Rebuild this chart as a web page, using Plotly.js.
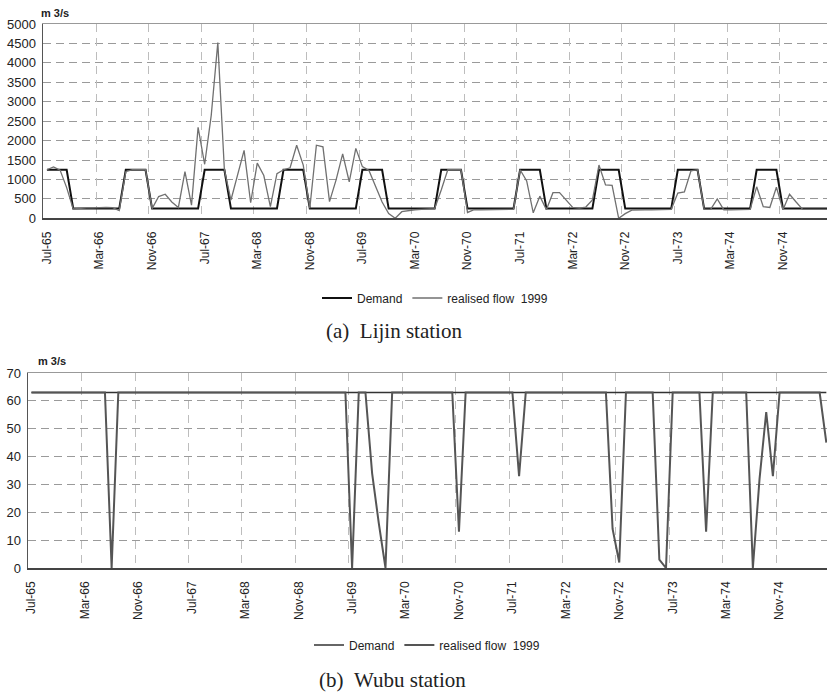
<!DOCTYPE html>
<html>
<head>
<meta charset="utf-8">
<script src="https://cdn.plot.ly/plotly-3.0.1.min.js"></script>
<style>
  html, body { margin: 0; padding: 0; background: #fff; }
  #chart { width: 827px; height: 697px; }
</style>
</head>
<body>
<div id="chart"></div>
<script>
// ---- categories: monthly, Jul-65 .. Jun-75 ----
const monthNames = ['Jan','Feb','Mar','Apr','May','Jun','Jul','Aug','Sep','Oct','Nov','Dec'];
const months = [];
for (let k = 0; k < 120; k++) {
  const m = (6 + k) % 12;
  const yr = 65 + Math.floor((6 + k) / 12);
  months.push(monthNames[m] + '-' + yr);
}

// ---- tick labels (every 8 months) ----
const tickLabels = ['Jul-65','Mar-66','Nov-66','Jul-67','Mar-68','Nov-68','Jul-69','Mar-70',
                    'Nov-70','Jul-71','Mar-72','Nov-72','Jul-73','Mar-74','Nov-74'];

// ---- (a) Lijin station, m3/s ----
const lijinDemand = [
  1250,1250,1250,1250,250,250,250,250,250,250,250,250,
  1250,1250,1250,1250,250,250,250,250,250,250,250,250,
  1250,1250,1250,1250,250,250,250,250,250,250,250,250,
  1250,1250,1250,1250,250,250,250,250,250,250,250,250,
  1250,1250,1250,1250,250,250,250,250,250,250,250,250,
  1250,1250,1250,1250,250,250,250,250,250,250,250,250,
  1250,1250,1250,1250,250,250,250,250,250,250,250,250,
  1250,1250,1250,1250,250,250,250,250,250,250,250,250,
  1250,1250,1250,1250,250,250,250,250,250,250,250,250,
  1250,1250,1250,1250,250,250,250,250,250,250,250,250
];
const lijinFlow = [
  1250,1320,1240,790,240,260,270,270,280,280,275,200,
  1200,1250,1250,1250,250,560,620,420,280,1200,340,2340,
  1390,2650,4520,1250,470,1100,1750,400,1420,1100,300,1150,
  1250,1300,1880,1370,260,1880,1840,430,990,1660,940,1800,
  1330,1230,830,420,120,0,170,200,220,230,240,250,
  730,1250,1250,1250,150,220,220,220,225,230,230,230,
  1250,960,140,570,220,660,660,480,280,260,290,470,
  1370,860,850,0,120,210,220,220,220,220,220,230,
  650,680,1220,1250,230,230,500,220,220,220,220,230,
  810,300,280,800,220,620,420,230,230,230,230,230
];

// ---- (b) Wubu station, m3/s ----
const wubuDemand = [
  63,63,63,63,63,63,63,63,63,63,63,63,
  63,63,63,63,63,63,63,63,63,63,63,63,
  63,63,63,63,63,63,63,63,63,63,63,63,
  63,63,63,63,63,63,63,63,63,63,63,63,
  63,63,63,63,63,63,63,63,63,63,63,63,
  63,63,63,63,63,63,63,63,63,63,63,63,
  63,63,63,63,63,63,63,63,63,63,63,63,
  63,63,63,63,63,63,63,63,63,63,63,63,
  63,63,63,63,63,63,63,63,63,63,63,63,
  63,63,63,63,63,63,63,63,63,63,63,63
];
const wubuFlow = [
  63,63,63,63,63,63,63,63,63,63,63,63,
  0,63,63,63,63,63,63,63,63,63,63,63,
  63,63,63,63,63,63,63,63,63,63,63,63,
  63,63,63,63,63,63,63,63,63,63,63,63,
  0,63,63,34,16,0,63,63,63,63,63,63,
  63,63,63,63,13,63,63,63,63,63,63,63,
  63,33,63,63,63,63,63,63,63,63,63,63,
  63,63,63,14,2,63,63,63,63,63,3,0,
  63,63,63,63,63,13,63,63,63,63,63,63,
  0,32,56,33,63,63,63,63,63,63,63,45
];

const gridVals = tickLabels.map(l => months.indexOf(l) - 0.5);
const fontSans = 'Liberation Sans, Arial, sans-serif';
const fontSerif = 'Liberation Serif, Times New Roman, serif';

const traces = [
  { x: months, y: lijinDemand, name: 'Demand', type: 'scatter', mode: 'lines',
    xaxis: 'x', yaxis: 'y', legend: 'legend',
    line: { color: '#111111', width: 2 } },
  { x: months, y: lijinFlow, name: 'realised flow\u00a0 1999', type: 'scatter', mode: 'lines',
    xaxis: 'x', yaxis: 'y', legend: 'legend',
    line: { color: '#707070', width: 1.3 } },
  { x: months, y: wubuDemand, name: 'Demand', type: 'scatter', mode: 'lines',
    xaxis: 'x2', yaxis: 'y2', legend: 'legend2',
    line: { color: '#333333', width: 1.5 } },
  { x: months, y: wubuFlow, name: 'realised flow\u00a0 1999', type: 'scatter', mode: 'lines',
    xaxis: 'x2', yaxis: 'y2', legend: 'legend2',
    line: { color: '#555555', width: 2 } },
  // carriers for the boundary gridline axes (no visible marks)
  { x: [gridVals[0]], y: [null], xaxis: 'x3', yaxis: 'y', type: 'scatter', mode: 'lines',
    showlegend: false, hoverinfo: 'skip' },
  { x: [gridVals[0]], y: [null], xaxis: 'x4', yaxis: 'y2', type: 'scatter', mode: 'lines',
    showlegend: false, hoverinfo: 'skip' }
];

const xTop = [-0.6, 118.7];
const xBot = [-0.52, 119.1];

const baseX = {
  type: 'category', categoryarray: months, categoryorder: 'array',
  tickmode: 'array', tickvals: tickLabels, ticktext: tickLabels,
  tickangle: -90, tickfont: { family: fontSans, size: 12, color: '#222' },
  showgrid: false, zeroline: false, showline: true, linecolor: '#444', linewidth: 1.5,
  ticks: '', ticklabelstandoff: 7, fixedrange: true, automargin: false
};
const baseGridX = {
  type: 'linear', tickmode: 'array', tickvals: gridVals, showticklabels: false,
  showgrid: true, gridcolor: '#bdbdbd', griddash: '8px,6px', gridwidth: 1,
  zeroline: false, showline: true, linecolor: '#999', linewidth: 1.2, side: 'top',
  ticks: '', automargin: false
};
const baseY = {
  tickfont: { family: fontSans, size: 13, color: '#222' },
  showgrid: true, gridcolor: '#9a9a9a', griddash: '8px,5px', gridwidth: 1,
  zeroline: false, showline: true, linecolor: '#555', linewidth: 1.5,
  ticks: '', ticklabelstandoff: 3, automargin: false
};

const layout = {
  width: 827, height: 697,
  margin: { l: 0, r: 0, t: 0, b: 0 },
  paper_bgcolor: '#ffffff', plot_bgcolor: '#ffffff',
  font: { family: fontSans, color: '#222' },
  xaxis: Object.assign({}, baseX, { domain: [43/827, 1], anchor: 'y', range: xTop }),
  xaxis3: Object.assign({}, baseGridX, { domain: [43/827, 1], anchor: 'y', overlaying: 'x', range: xTop }),
  yaxis: Object.assign({}, baseY, { domain: [1 - 218.3/697, 1 - 24/697], anchor: 'x',
    range: [0, 5000], dtick: 500, tick0: 0 }),
  xaxis2: Object.assign({}, baseX, { domain: [28/827, 1], anchor: 'y2', range: xBot }),
  xaxis4: Object.assign({}, baseGridX, { domain: [28/827, 1], anchor: 'y2', overlaying: 'x2', range: xBot }),
  yaxis2: Object.assign({}, baseY, { domain: [1 - 568/697, 1 - 373/697], anchor: 'x2',
    range: [0, 70], dtick: 10, tick0: 0 }),
  legend: { orientation: 'h', x: 435/827, xanchor: 'center', y: 1 - 298/697, yanchor: 'middle',
    font: { family: fontSans, size: 12, color: '#222' }, bgcolor: 'rgba(0,0,0,0)',
    itemwidth: 30, traceorder: 'normal' },
  legend2: { orientation: 'h', x: 427/827, xanchor: 'center', y: 1 - 645/697, yanchor: 'middle',
    font: { family: fontSans, size: 12, color: '#222' }, bgcolor: 'rgba(0,0,0,0)',
    itemwidth: 30, traceorder: 'normal' },
  annotations: [
    { text: '<b>m 3/s</b>', xref: 'paper', yref: 'paper', x: 39/827, y: 1 - 13/697,
      xanchor: 'left', yanchor: 'middle', showarrow: false,
      font: { family: fontSans, size: 11, color: '#222' } },
    { text: '<b>m 3/s</b>', xref: 'paper', yref: 'paper', x: 36/827, y: 1 - 361/697,
      xanchor: 'left', yanchor: 'middle', showarrow: false,
      font: { family: fontSans, size: 11, color: '#222' } },
    { text: '(a)\u00a0\u00a0Lijin station', xref: 'paper', yref: 'paper', x: 394/827, y: 1 - 331/697,
      xanchor: 'center', yanchor: 'middle', showarrow: false,
      font: { family: fontSerif, size: 21, color: '#222' } },
    { text: '(b)\u00a0\u00a0Wubu station', xref: 'paper', yref: 'paper', x: 392/827, y: 1 - 680/697,
      xanchor: 'center', yanchor: 'middle', showarrow: false,
      font: { family: fontSerif, size: 21, color: '#222' } }
  ]
};

Plotly.newPlot('chart', traces, layout, { displayModeBar: false, staticPlot: true });
</script>
</body>
</html>
